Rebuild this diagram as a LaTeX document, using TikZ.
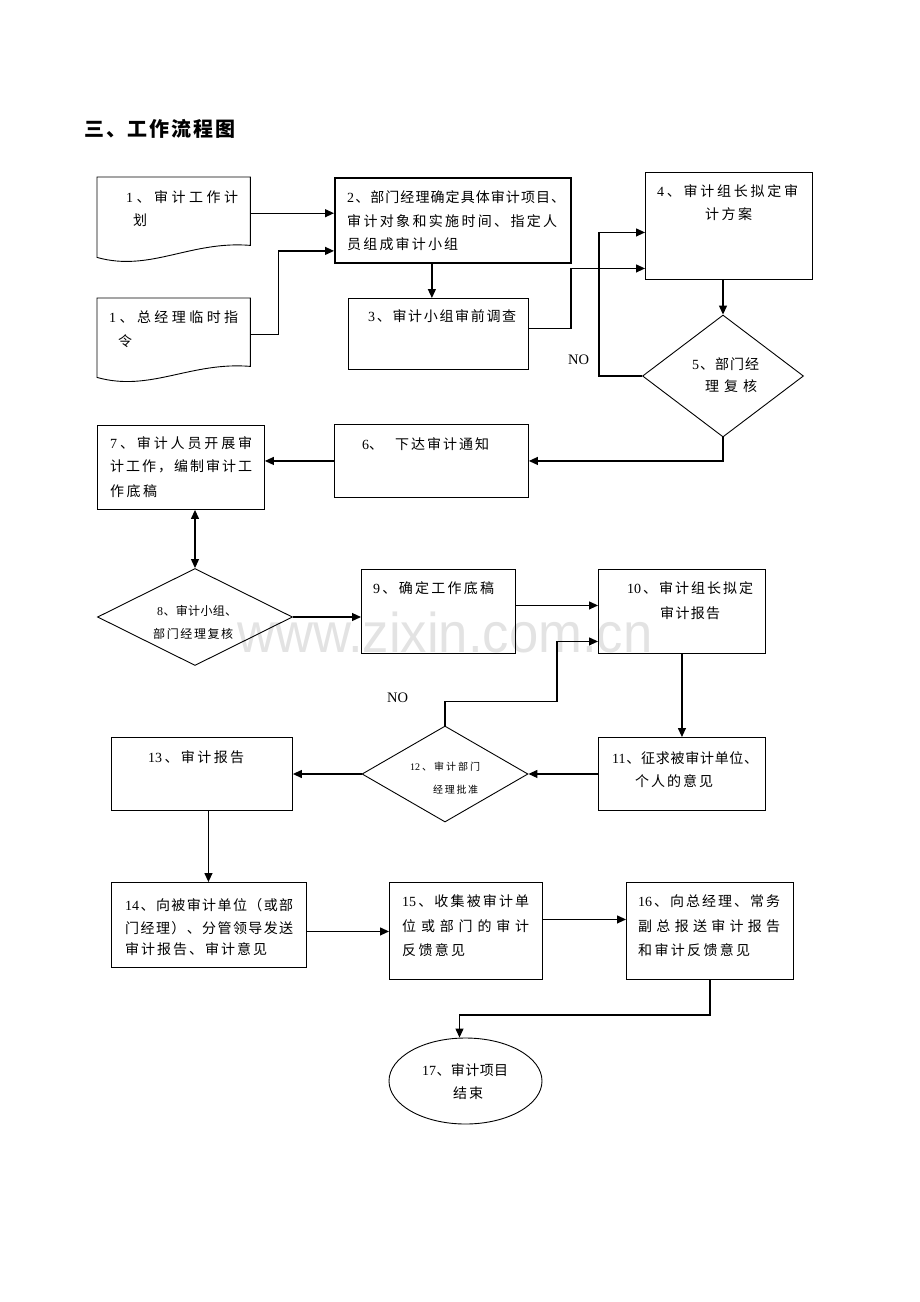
\documentclass[tikz,border=0pt]{standalone}
\usepackage{fontspec}
\setmainfont{Liberation Serif}
\newfontfamily\cjk{Noto Sans CJK SC}
\newfontfamily\lat{Liberation Serif}
\newfontfamily\wmfont{Liberation Sans}
\usetikzlibrary{shapes.geometric,arrows.meta,calc}

% spread the characters of a line evenly over a given width
\newcommand\spr[2]{\hbox to #1{\sprx#2\relax}}
\def\sprx#1{\ifx\relax#1\else{#1}\expandafter\sprnext\fi}
\def\sprnext#1{\ifx\relax#1\else\hfil{#1}\expandafter\sprnext\fi}
\newcommand\tline[6][txt]{\node[#1] (#2) at (#3,#4) {\spr{#5pt}{#6}};}

\tikzset{
  box/.style={draw, line width=0.9pt, rectangle, inner sep=0pt, anchor=north west},
  docbox/.style={rectangle, inner sep=0pt, anchor=north west},
  docline/.style={line width=0.9pt, line join=miter},
  dia/.style={draw, line width=0.9pt, diamond, inner sep=0pt},
  ell/.style={draw, line width=0.9pt, ellipse, inner sep=0pt},
  txt/.style={inner sep=0pt, anchor=base west, font=\cjk\fontsize{14}{17}\selectfont},
  txts/.style={txt, font=\cjk\fontsize{12}{14}\selectfont},
  txtxs/.style={txt, font=\cjk\fontsize{10}{12}\selectfont},
  arr/.style={line width=1.2pt, -{Triangle[length=9pt,width=8pt]}},
  dblarr/.style={line width=1.2pt, {Triangle[length=9pt,width=8pt]}-{Triangle[length=9pt,width=8pt]}},
  nolabel/.style={inner sep=0pt, anchor=base west, font=\lat\fontsize{14.5}{17}\selectfont},
  wm/.style={inner sep=0pt, anchor=base west, text=black!11, font=\wmfont\fontsize{56}{60}\selectfont},
}

\begin{document}
\begin{tikzpicture}[x=1pt,y=-1pt]
\useasboundingbox (0,0) rectangle (920,1302);

% watermark
\node[wm] (wmark) at (237,652) {\scalebox{0.94}[1]{www.zixin.com.cn}};

% title
\node[txt, font=\cjk\bfseries\fontsize{20}{24}\selectfont] (title) at (84,136.6) {\spr{151pt}{三、工作流程图}};

% shapes
\node[docbox, minimum width=153pt, minimum height=80pt] (b1a) at (97,177) {};
\node[docbox, minimum width=153pt, minimum height=79pt] (b1b) at (97,298) {};
\node[box, line width=1.8pt, minimum width=236pt, minimum height=85pt] (b2) at (334,177) {};
\node[box, minimum width=180pt, minimum height=71pt] (b3) at (348,298) {};
\node[box, minimum width=167pt, minimum height=107pt] (b4) at (645,172) {};
\node[dia, minimum width=161pt, minimum height=122pt] (d5) at (723,376) {};
\node[box, minimum width=194pt, minimum height=73pt] (b6) at (334,424) {};
\node[box, minimum width=167pt, minimum height=84pt] (b7) at (97,425) {};
\node[dia, minimum width=195pt, minimum height=97pt] (d8) at (195,617) {};
\node[box, minimum width=154pt, minimum height=84pt] (b9) at (361,569) {};
\node[box, minimum width=167pt, minimum height=84pt] (b10) at (598,569) {};
\node[box, minimum width=167pt, minimum height=73pt] (b11) at (598,737) {};
\node[dia, minimum width=166pt, minimum height=96pt] (d12) at (445,774) {};
\node[box, minimum width=181pt, minimum height=73pt] (b13) at (111,737) {};
\node[box, minimum width=195pt, minimum height=85pt] (b14) at (111,882) {};
\node[box, minimum width=153pt, minimum height=97pt] (b15) at (389,882) {};
\node[box, minimum width=167pt, minimum height=97pt] (b16) at (626,882) {};
\node[ell, minimum width=153pt, minimum height=86pt] (e17) at (465.5,1081) {};

% document shapes (wavy bottom)
\draw[docline] (b1a.south west) -- (b1a.north west) -- (b1a.north east) -- ([yshift=12pt]b1a.south east)
  .. controls ($(b1a.south east)+(-60,-17)$) and ($(b1a.south west)+(53,15)$) .. (b1a.south west) -- cycle;
\draw[docline] (b1b.south west) -- (b1b.north west) -- (b1b.north east) -- ([yshift=11pt]b1b.south east)
  .. controls ($(b1b.south east)+(-60,-16)$) and ($(b1b.south west)+(53,15)$) .. (b1b.south west) -- cycle;

% texts
\tline{t1a1}{126}{202}{112}{{\lat 1}、审计工作计}
\tline{t1a2}{133}{225.5}{14}{划}
\tline{t1b1}{109}{322}{129}{{\lat 1}、总经理临时指}
\tline{t1b2}{118}{346}{14}{令}
\tline{t2a}{347}{202}{218}{{\lat 2}、部门经理确定具体审计项目、}
\tline{t2b}{347}{226}{210}{审计对象和实施时间、指定人}
\tline{t2c}{347}{249.5}{111}{员组成审计小组}
\tline{t3}{368}{321.5}{148}{{\lat 3}、审计小组审前调查}
\tline{t4a}{657}{196}{141}{{\lat 4}、审计组长拟定审}
\tline{t4b}{705}{219}{47}{计方案}
\tline{t5a}{692}{369}{67}{{\lat 5}、部门经}
\tline{t5b}{705}{391.5}{52}{理复核}
\node[txt] (t6) at (362,449) {{\lat 6}、\hspace{12pt}\spr{94pt}{下达审计通知}};
\tline{t7a}{110}{448.5}{142}{{\lat 7}、审计人员开展审}
\tline{t7b}{110}{471}{142}{计工作，编制审计工}
\tline{t7c}{110}{496}{47}{作底稿}
\tline[txts]{t8a}{157}{615.5}{80}{{\lat 8}、审计小组、}
\tline[txts]{t8b}{153}{638}{80}{部门经理复核}
\tline{t9}{373}{593.5}{121}{{\lat 9}、确定工作底稿}
\tline{t10a}{627}{593.5}{126}{{\lat 10}、审计组长拟定}
\tline{t10b}{660}{618}{60}{审计报告}
\tline{t11a}{612}{763.5}{146}{{\lat 11}、征求被审计单位、}
\tline{t11b}{635}{786.5}{78}{个人的意见}
\tline[txtxs]{t12a}{410}{770}{70}{{\lat 12}、审计部门}
\tline[txtxs]{t12b}{433}{793}{45}{经理批准}
\tline{t13}{148}{762.5}{96}{{\lat 13}、审计报告}
\tline{t14a}{125}{910}{168}{{\lat 14}、向被审计单位（或部}
\tline{t14b}{125}{933.5}{168}{门经理）、分管领导发送}
\tline{t14c}{125}{954.5}{142}{审计报告、审计意见}
\tline{t15a}{402}{906.5}{127}{{\lat 15}、收集被审计单}
\tline{t15b}{402}{931.5}{127}{位或部门的审计}
\tline{t15c}{402}{955}{63}{反馈意见}
\tline{t16a}{638}{906.5}{142}{{\lat 16}、向总经理、常务}
\tline{t16b}{638}{931.5}{142}{副总报送审计报告}
\tline{t16c}{638}{955}{112}{和审计反馈意见}
\tline{t17a}{422}{1075}{86}{{\lat 17}、审计项目}
\tline{t17b}{453}{1098.5}{30}{结束}

\node[nolabel] (no1) at (568,364) {NO};
\node[nolabel] (no2) at (387,702) {NO};

% connectors
\coordinate (p1) at ([yshift=4pt]b1a.east);
\draw[arr] (p1) -- (p1 -| b2.west);
\coordinate (p2) at ([yshift=3.5pt]b1b.east);
\coordinate (q2) at ([yshift=-30.5pt]b2.west);
\draw[arr] (p2) -- ++(28,0) |- (q2);
\coordinate (p3) at ([xshift=-21pt]b2.south);
\draw[arr] (p3) -- (p3 |- b3.north);
\coordinate (p4) at ([yshift=5.5pt]b3.east);
\coordinate (q4) at ([yshift=-42.5pt]b4.west);
\draw[arr] (p4) -- ++(42,0) |- (q4);
\coordinate (q5) at ([yshift=-6.5pt]b4.west);
\draw[arr] (d5.west) -- ++(-43,0) |- (q5);
\draw[arr] (d5.north |- b4.south) -- (d5.north);
\draw[arr] (d5.south) |- (b6.east);
\draw[arr] (b6.west) -- (b6.west -| b7.east);
\draw[dblarr] (d8.north |- b7.south) -- (d8.north);
\draw[arr] (d8.east) -- (d8.east -| b9.west);
\coordinate (p9) at ([yshift=6pt]b9.east);
\draw[arr] (p9) -- (p9 -| b10.west);
\draw[arr] (b10.south) -- (b10.south |- b11.north);
\draw[arr] (b11.west) -- (b11.west -| d12.east);
\coordinate (q12) at ([yshift=-30pt]b10.west);
\draw[arr] (d12.north) -- ++(0,-24) -- ++(112,0) |- (q12);
\draw[arr] (d12.west) -- (d12.west -| b13.east);
\coordinate (p13) at ([xshift=6.5pt]b13.south);
\draw[arr] (p13) -- (p13 |- b14.north);
\coordinate (p14) at ([yshift=-6.5pt]b14.east);
\draw[arr] (p14) -- (p14 -| b15.west);
\coordinate (p15) at ([yshift=11.5pt]b15.east);
\draw[arr] (p15) -- (p15 -| b16.west);
\coordinate (q17) at ([xshift=-6pt]e17.north);
\draw[arr] (b16.south) -- ++(0,35) -| (q17);
\end{tikzpicture}
\end{document}
